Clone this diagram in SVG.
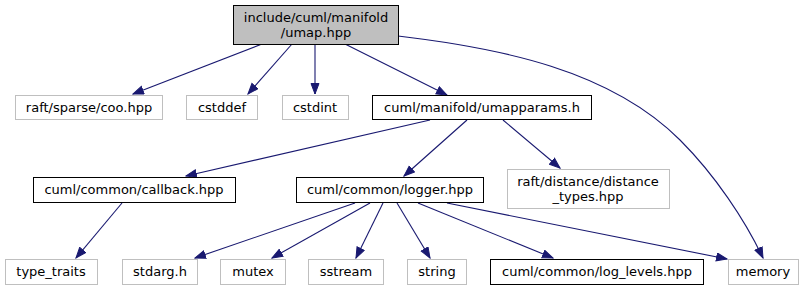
<svg xmlns="http://www.w3.org/2000/svg" width="810" height="291" viewBox="0 0 810 291">
  <style>
    .box { fill: #ffffff; stroke: #000000; stroke-width: 1; }
    .ext { fill: #ffffff; stroke: #bfbfbf; stroke-width: 1; }
    .root { fill: #bfbfbf; stroke: #000000; stroke-width: 1; }
    text { font-family: "DejaVu Sans", "Liberation Sans", sans-serif; font-size: 13px; fill: #000000; text-anchor: middle; }
    .edge { fill: none; stroke: #191970; stroke-width: 1.1; marker-end: url(#arrow); }
  </style>
  <defs>
    <marker id="arrow" markerUnits="userSpaceOnUse" markerWidth="12" markerHeight="10" refX="11" refY="4.5" orient="auto">
      <path d="M0.5,0.5 L11,4.5 L0.5,8.5 z" fill="#191970" stroke="#191970"/>
    </marker>
  </defs>
  <rect width="810" height="291" fill="#ffffff"/>

  <!-- include relations -->
  <g id="edges">
    <path class="edge" d="M262,44 L133,94"/>
    <path class="edge" d="M292,44 L248,94"/>
    <path class="edge" d="M315,44 L315,94"/>
    <path class="edge" d="M345,44 L447,95"/>
    <path class="edge" d="M398,36 C500,48 610,70 680,140 C715,175 745,220 763,258"/>
    <path class="edge" d="M430,120 L186,176"/>
    <path class="edge" d="M467,120 L404,176"/>
    <path class="edge" d="M503,120 L560,168"/>
    <path class="edge" d="M122,203 L76,258"/>
    <path class="edge" d="M355,203 L195,258"/>
    <path class="edge" d="M370,203 L272,258"/>
    <path class="edge" d="M383,203 L356,258"/>
    <path class="edge" d="M397,203 L430,258"/>
    <path class="edge" d="M418,203 L553,258"/>
    <path class="edge" d="M447,203 L727,259"/>
  </g>

  <g id="node-umap">
    <rect class="root" x="233.5" y="5.5" width="165" height="39"/>
    <text x="316" y="22">include/cuml/manifold</text>
    <text x="316" y="37">/umap.hpp</text>
  </g>
  <g id="node-coo">
    <rect class="ext" x="15.5" y="95.5" width="147" height="24"/>
    <text x="89" y="112">raft/sparse/coo.hpp</text>
  </g>
  <g id="node-cstddef">
    <rect class="ext" x="186.5" y="95.5" width="71" height="24"/>
    <text x="222" y="112">cstddef</text>
  </g>
  <g id="node-cstdint">
    <rect class="ext" x="282.5" y="95.5" width="66" height="24"/>
    <text x="315" y="112">cstdint</text>
  </g>
  <g id="node-umapparams">
    <rect class="box" x="372.5" y="95.5" width="219" height="24"/>
    <text x="482" y="112">cuml/manifold/umapparams.h</text>
  </g>
  <g id="node-callback">
    <rect class="box" x="33.5" y="177.5" width="202" height="25"/>
    <text x="134" y="194">cuml/common/callback.hpp</text>
  </g>
  <g id="node-logger">
    <rect class="box" x="296.5" y="177.5" width="187" height="25"/>
    <text x="390" y="194">cuml/common/logger.hpp</text>
  </g>
  <g id="node-distance-types">
    <rect class="ext" x="507.5" y="169.5" width="162" height="39"/>
    <text x="588" y="186">raft/distance/distance</text>
    <text x="588" y="201">_types.hpp</text>
  </g>
  <g id="node-type-traits">
    <rect class="ext" x="5.5" y="259.5" width="92" height="25"/>
    <text x="51" y="276">type_traits</text>
  </g>
  <g id="node-stdarg">
    <rect class="ext" x="122.5" y="259.5" width="75" height="25"/>
    <text x="160" y="276">stdarg.h</text>
  </g>
  <g id="node-mutex">
    <rect class="ext" x="220.5" y="259.5" width="65" height="25"/>
    <text x="253" y="276">mutex</text>
  </g>
  <g id="node-sstream">
    <rect class="ext" x="308.5" y="259.5" width="75" height="25"/>
    <text x="346" y="276">sstream</text>
  </g>
  <g id="node-string">
    <rect class="ext" x="407.5" y="259.5" width="59" height="25"/>
    <text x="437" y="276">string</text>
  </g>
  <g id="node-log-levels">
    <rect class="box" x="490.5" y="259.5" width="213" height="25"/>
    <text x="597" y="276">cuml/common/log_levels.hpp</text>
  </g>
  <g id="node-memory">
    <rect class="ext" x="728.5" y="259.5" width="70" height="25"/>
    <text x="763" y="276">memory</text>
  </g>
</svg>
